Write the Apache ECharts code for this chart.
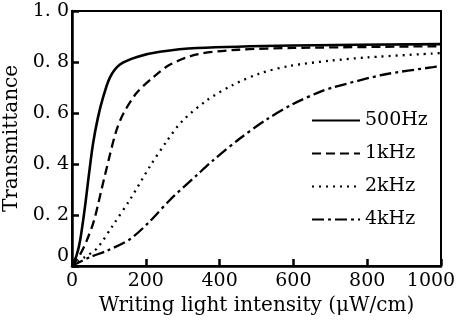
<!DOCTYPE html>
<html><head><meta charset="utf-8">
<script src="https://cdn.jsdelivr.net/npm/echarts@6/dist/echarts.min.js"></script>
<style>html,body{margin:0;padding:0;background:#fff}#c{width:457px;height:320px}</style>
</head><body><div id="c"></div>
<script>
const seriesNames = ['500Hz', '1kHz', '2kHz', '4kHz'];
const xTicks = [0, 200, 400, 600, 800, 1000];
const yTicks = [0, 0.2, 0.4, 0.6, 0.8, 1.0];
const s500 = [[0,0],[12,0.04],[22,0.10],[35,0.23],[46,0.36],[57,0.48],[70,0.58],[84,0.66],[103,0.74],[130,0.79],[176,0.82],[238,0.84],[339,0.855],[600,0.865],[1000,0.87]];
const s1k = [[0,0],[20,0.04],[40,0.10],[60,0.18],[80,0.30],[100,0.42],[120,0.53],[140,0.60],[176,0.68],[220,0.74],[266,0.79],[339,0.83],[450,0.848],[600,0.855],[1000,0.862]];
const s2k = [[0,0],[30,0.03],[68,0.07],[111,0.16],[157,0.26],[211,0.39],[257,0.49],[300,0.57],[366,0.65],[436,0.71],[509,0.755],[591,0.785],[700,0.805],[800,0.818],[1000,0.835]];
const s4k = [[0,0],[49,0.035],[95,0.06],[157,0.105],[211,0.175],[266,0.26],[341,0.36],[383,0.415],[455,0.5],[528,0.575],[599,0.635],[667,0.68],[707,0.70],[843,0.75],[978,0.78],[1000,0.785]];
const dashTypes = ['solid', [9,5], [2,5], [12,4,3,4]];
const allData = [s500, s1k, s2k, s4k];

const font = 'DejaVu Serif';
const chart = echarts.init(document.getElementById('c'));
chart.setOption({
  animation: false,
  backgroundColor: '#fff',
  grid: {left: 72, top: 11, right: 16, bottom: 54, show: true, borderColor: '#000', borderWidth: 2,
    containLabel: false, outerBoundsMode: 'none'},
  legend: {
    orient: 'vertical', left: 306, top: 106, itemWidth: 48, itemHeight: 14, itemGap: 14,
    data: seriesNames,
    itemStyle: {color: 'rgba(0,0,0,0)', borderColor: 'rgba(0,0,0,0)', borderWidth: 0},
    textStyle: {fontFamily: font, fontSize: 19, color: '#000'}
  },
  xAxis: {
    type: 'value', min: xTicks[0], max: xTicks[xTicks.length-1], interval: 200,
    name: 'Writing light intensity (μW/cm)', nameLocation: 'middle', nameGap: 25,
    nameTextStyle: {fontFamily: font, fontSize: 20, color: '#000'},
    axisLine: {lineStyle: {color: '#000', width: 2.5}},
    axisTick: {inside: true, length: 7, lineStyle: {color: '#000', width: 2.5}},
    splitLine: {show: false},
    axisLabel: {fontFamily: font, fontSize: 19, color: '#000', margin: 6,
      formatter: v => v === 1000 ? '{r|1000}' : String(v),
      rich: {r: {fontFamily: font, fontSize: 19, color: '#000', padding: [0,20,0,0]}}}
  },
  yAxis: {
    type: 'value', min: yTicks[0], max: yTicks[yTicks.length-1], interval: 0.2,
    name: 'Transmittance', nameLocation: 'middle', nameGap: 50,
    nameTextStyle: {fontFamily: font, fontSize: 20, color: '#000'},
    axisLine: {lineStyle: {color: '#000', width: 2.5}},
    axisTick: {inside: true, length: 7, lineStyle: {color: '#000', width: 2.5}},
    splitLine: {show: false},
    axisLabel: {fontFamily: font, fontSize: 19, color: '#000', margin: 3,
      formatter: v => v === 0 ? '{z|0}' : v.toFixed(1).replace('.', '. '),
      rich: {z: {fontFamily: font, fontSize: 19, color: '#000', padding: [0,0,20,0]}}}
  },
  series: seriesNames.map((n, i) => ({
    name: n, type: 'line', data: allData[i], smooth: 0.3, symbol: 'none',
    lineStyle: {color: '#000', width: i === 0 ? 2.6 : 2.3, type: dashTypes[i]},
    itemStyle: {color: '#000'}
  }))
});
</script></body></html>
